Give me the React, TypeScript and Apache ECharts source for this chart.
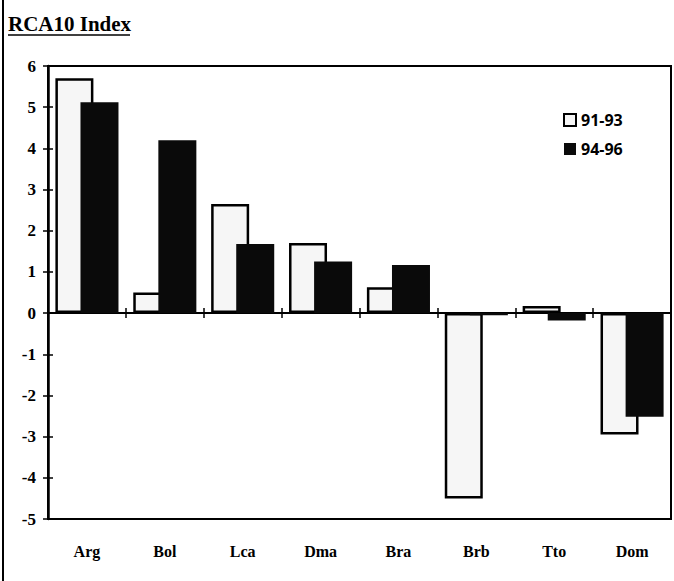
import React, { useEffect, useRef } from "react";
import * as echarts from "echarts";

const categories = ["Arg", "Bol", "Lca", "Dma", "Bra", "Brb", "Tto", "Dom"];
const series9193 = [5.7, 0.5, 2.65, 1.7, 0.63, -4.5, 0.17, -2.95];
const series9496 = [5.12, 4.2, 1.68, 1.25, 1.17, -0.05, -0.18, -2.52];
const yTicks = { min: -5, max: 6, interval: 1 };

export default function App() {
  const ref = useRef<HTMLDivElement>(null);
  useEffect(() => {
    if (!ref.current) return;
    const chart = echarts.init(ref.current, null, { renderer: "svg" });
    const serif = "'Liberation Serif', 'Times New Roman', serif";
    const sans = "'Open Sans', 'DejaVu Sans', sans-serif";
    chart.setOption({
      animation: false,
      backgroundColor: "#fff",
      grid: {
        left: 48,
        right: 3,
        top: 66,
        bottom: 62,
        show: true,
        borderColor: "#000",
        borderWidth: 2,
        backgroundColor: "transparent",
      },
      legend: {
        orient: "vertical",
        left: 558,
        top: 107,
        itemWidth: 12,
        itemHeight: 12,
        itemGap: 13,
        icon: "rect",
        textStyle: { fontFamily: sans, fontWeight: "bold", fontSize: 16, color: "#000" },
        data: ["91-93", "94-96"],
      },
      xAxis: [
        {
          type: "category",
          data: categories,
          position: "bottom",
          axisLine: { onZero: true, onZeroAxisIndex: 0, lineStyle: { color: "#000", width: 2 } },
          axisTick: { show: true, length: 5, inside: false, lineStyle: { color: "#000", width: 1.5 } },
          axisLabel: { show: false },
          splitLine: { show: false },
        },
        {
          type: "category",
          data: categories,
          position: "bottom",
          axisLine: { show: false, onZero: true, onZeroAxisIndex: 0 },
          axisTick: { show: true, length: 5, inside: true, lineStyle: { color: "#000", width: 1.5 } },
          axisLabel: { show: false },
          splitLine: { show: false },
        },
        {
          type: "category",
          data: categories,
          position: "bottom",
          axisLine: { show: false, onZero: false },
          axisTick: { show: false },
          axisLabel: {
            show: true,
            margin: 24,
            fontFamily: serif,
            fontWeight: "bold",
            fontSize: 16,
            color: "#000",
          },
          splitLine: { show: false },
        },
      ],
      yAxis: [
        {
          type: "value",
          position: "left",
          min: yTicks.min,
          max: yTicks.max,
          interval: yTicks.interval,
          axisLine: { show: true, lineStyle: { color: "#000", width: 2.5 } },
          axisTick: { show: true, length: 5, inside: false, lineStyle: { color: "#000", width: 1.5 } },
          axisLabel: {
            margin: 12,
            fontFamily: serif,
            fontWeight: "bold",
            fontSize: 17,
            color: "#000",
          },
          splitLine: { show: false },
        },
        {
          type: "value",
          position: "left",
          min: yTicks.min,
          max: yTicks.max,
          interval: yTicks.interval,
          axisLine: { show: false },
          axisTick: { show: true, length: 5, inside: true, lineStyle: { color: "#000", width: 1.5 } },
          axisLabel: { show: false },
          splitLine: { show: false },
        },
      ],
      series: [
        {
          name: "91-93",
          type: "bar",
          xAxisIndex: 0,
          yAxisIndex: 0,
          data: series9193,
          barWidth: 38,
          barGap: "-34%",
          itemStyle: { color: "#f6f6f6", borderColor: "#000", borderWidth: 2.5 },
        },
        {
          name: "94-96",
          type: "bar",
          xAxisIndex: 0,
          yAxisIndex: 0,
          data: series9496,
          barWidth: 38,
          barGap: "-34%",
          itemStyle: { color: "#0a0a0a", borderColor: "#000", borderWidth: 0 },
        },
      ],
      graphic: [
        {
          type: "line",
          shape: { x1: 3, y1: 0, x2: 3, y2: 581 },
          style: { stroke: "#000", lineWidth: 2 },
        },
        {
          type: "text",
          left: 8,
          top: 13,
          style: {
            text: "RCA10 Index",
            font: "bold 21px 'Liberation Serif', serif",
            fill: "#000",
          },
        },
        {
          type: "line",
          shape: { x1: 8, y1: 35, x2: 130, y2: 35 },
          style: { stroke: "#000", lineWidth: 1.5 },
        },
      ],
    });
    return () => chart.dispose();
  }, []);
  return <div ref={ref} style={{ width: 674, height: 581, position: "absolute", left: 0, top: 0 }} />;
}
